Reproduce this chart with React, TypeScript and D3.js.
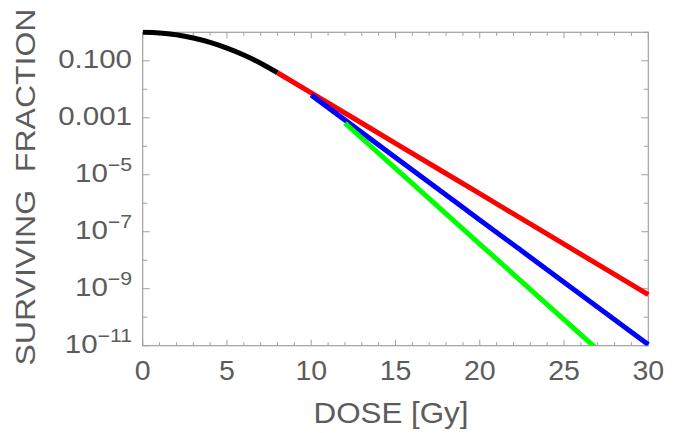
import React from "react";
import * as d3 from "d3";

// Dose [Gy] and surviving fraction
const blackDose = [0, 1, 2, 3, 4, 5, 6, 7, 8];
const blackSF = [1, 0.95, 0.815, 0.63, 0.443, 0.279, 0.16, 0.082, 0.038];

const redDose = [8, 10, 15, 20, 25, 30];
const redSF = [0.038, 7.5e-3, 1.27e-4, 2.16e-6, 3.66e-8, 6.2e-10];

const blueDose = [10, 15, 20, 25, 30];
const blueSF = [6.3e-3, 4.0e-5, 2.6e-7, 1.7e-9, 1.1e-11];

const greenDose = [12, 15, 20, 25, 27];
const greenSF = [6.5e-4, 1.66e-5, 3.7e-8, 8.3e-11, 7.2e-12];

const xMajor = [0, 5, 10, 15, 20, 25, 30];
const xMinor = d3.range(0, 31, 1);
const yMajorExp = [-1, -3, -5, -7, -9, -11];
const yMinorExp = [0, -2, -4, -6, -8, -10];
const yTickText: Record<number, [string, string]> = {
  "-1": ["0.100", ""],
  "-3": ["0.001", ""],
  "-5": ["10", "\u22125"],
  "-7": ["10", "\u22127"],
  "-9": ["10", "\u22129"],
  "-11": ["10", "\u221211"],
} as any;

const series = [
  { dose: blackDose, sf: blackSF, color: "#000000" },
  { dose: redDose, sf: redSF, color: "#ff0000" },
  { dose: blueDose, sf: blueSF, color: "#0000ff" },
  { dose: greenDose, sf: greenSF, color: "#00ff00" },
];

export default function App() {
  const W = 682, H = 433;
  const x = d3.scaleLinear().domain([0, 30]).range([142.7, 648.3]);
  const y = d3.scaleLog().domain([1e-11, 1]).range([345.7, 32.3]);
  const [x0, x1] = x.range();
  const [yb, yt] = y.range();
  const frame = "#a0a0a0";
  const txt = "#5c5c5c";
  const font = "'Liberation Sans', Arial, sans-serif";

  const line = d3
    .line<[number, number]>()
    .x((d) => x(d[0]))
    .y((d) => y(d[1]))
    .curve(d3.curveMonotoneX);

  return (
    <svg width={W} height={H} style={{ position: "absolute", left: 0, top: 0, background: "#fff" }}>
      <defs>
        <clipPath id="plotclip">
          <rect x={x0} y={yt - 3} width={x1 - x0 + 3} height={yb - yt + 3} />
        </clipPath>
      </defs>
      <rect x={0} y={0} width={W} height={H} fill="#fff" />
      {/* frame */}
      <rect x={x0} y={yt} width={x1 - x0} height={yb - yt} fill="none" stroke={frame} strokeWidth={1.2} />
      {/* x ticks bottom & top */}
      {xMinor.map((v) => {
        const major = v % 5 === 0;
        const len = major ? 6 : 3.5;
        return (
          <g key={"xt" + v} stroke={frame} strokeWidth={1}>
            <line x1={x(v)} x2={x(v)} y1={yb} y2={yb - len} />
            <line x1={x(v)} x2={x(v)} y1={yt} y2={yt + len} />
          </g>
        );
      })}
      {/* y ticks left & right */}
      {[...yMajorExp.map((e) => [e, 7]), ...yMinorExp.map((e) => [e, 4.5])].map(([e, len]) => {
        const yy = y(Math.pow(10, e));
        return (
          <g key={"yt" + e} stroke={frame} strokeWidth={1}>
            <line x1={x0} x2={x0 + len} y1={yy} y2={yy} />
            <line x1={x1} x2={x1 - len} y1={yy} y2={yy} />
          </g>
        );
      })}
      {/* curves */}
      <g clipPath="url(#plotclip)">
        {series.map((s, i) => (
          <path
            key={i}
            d={line(s.dose.map((d, j) => [d, s.sf[j]] as [number, number])) || ""}
            fill="none"
            stroke={s.color}
            strokeWidth={5}
          />
        ))}
      </g>
      {/* x labels */}
      {xMajor.map((v) => (
        <text
          key={"xl" + v}
          x={x(v)}
          y={380}
          textAnchor="middle"
          fontFamily={font}
          fontSize={28.5}
          fill={txt}
        >
          {v}
        </text>
      ))}
      {/* y labels */}
      {yMajorExp.map((e) => {
        const [base, sup] = yTickText[e];
        const yy = y(Math.pow(10, e));
        return (
          <g key={"yl" + e} transform={`translate(132,${yy + 7}) scale(1.18,1)`}>
            <text textAnchor="end" fontFamily={font} fontSize={25} fill={txt}>
              {base}
              {sup && (
                <tspan fontSize={18} dy={-11}>
                  {sup}
                </tspan>
              )}
            </text>
          </g>
        );
      })}
      {/* axis titles */}
      <text
        x={391}
        y={423}
        textAnchor="middle"
        fontFamily={font}
        fontSize={29}
        fill={txt}
        textLength={155}
        lengthAdjust="spacingAndGlyphs"
      >
        DOSE [Gy]
      </text>
      <text
        transform={`translate(35,187) rotate(-90)`}
        textAnchor="middle"
        fontFamily={font}
        fontSize={28}
        fill={txt}
        textLength={357}
        lengthAdjust="spacingAndGlyphs"
        style={{ whiteSpace: "pre" }}
      >
        {"SURVIVING  FRACTION"}
      </text>
    </svg>
  );
}
